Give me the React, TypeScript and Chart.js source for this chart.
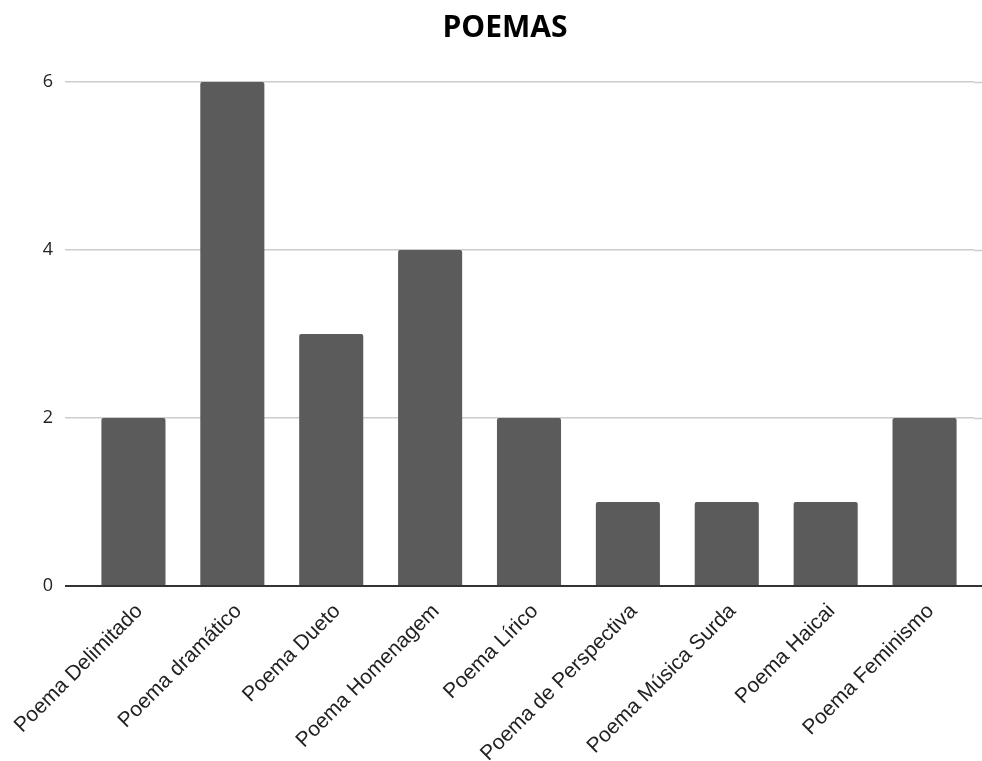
import React, { useEffect, useRef } from 'react';
import { Chart, registerables } from 'chart.js';

Chart.register(...registerables);

const title = 'POEMAS';
const categories = [
  'Poema Delimitado',
  'Poema dramático',
  'Poema Dueto',
  'Poema Homenagem',
  'Poema Lírico',
  'Poema de Perspectiva',
  'Poema Música Surda',
  'Poema Haicai',
  'Poema Feminismo',
];
const values = [2, 6, 3, 4, 2, 1, 1, 1, 2];
const yMin = 0;
const yMax = 6;
const yStep = 2;

const W = 982;
const H = 761;
const TICK_LEN = 19;

const gridExtend = {
  id: 'gridExtend',
  beforeDatasetsDraw(chart: any) {
    const { ctx, chartArea } = chart;
    const y = chart.scales.y;
    ctx.save();
    y.ticks.forEach((t: any) => {
      if (t.value === 0) return;
      const py = Math.round(y.getPixelForValue(t.value)) + 0.5;
      ctx.strokeStyle = '#cccccc';
      ctx.lineWidth = 1.5;
      ctx.beginPath();
      ctx.moveTo(chartArea.right, py);
      ctx.lineTo(chart.width, py);
      ctx.stroke();
    });
    ctx.restore();
  },
  afterDatasetsDraw(chart: any) {
    const { ctx, chartArea } = chart;
    const y = chart.scales.y;
    const py = y.getPixelForValue(0);
    ctx.save();
    ctx.strokeStyle = '#333333';
    ctx.lineWidth = 2;
    ctx.beginPath();
    ctx.moveTo(chartArea.left - TICK_LEN, py);
    ctx.lineTo(chart.width, py);
    ctx.stroke();
    ctx.restore();
  },
};

export default function App() {
  const ref = useRef<HTMLCanvasElement>(null);
  useEffect(() => {
    if (!ref.current) return;
    const chart = new Chart(ref.current, {
      type: 'bar',
      data: {
        labels: categories,
        datasets: [
          {
            data: values,
            backgroundColor: '#5b5b5b',
            borderRadius: 2,
            borderSkipped: 'bottom',
            barPercentage: 0.648,
            categoryPercentage: 1,
          },
        ],
      },
      options: {
        responsive: false,
        animation: false,
        layout: { padding: { left: 36, right: 8, top: 0, bottom: 0 } },
        plugins: {
          legend: { display: false },
          tooltip: { enabled: false },
          title: {
            display: true,
            text: title,
            color: '#000000',
            font: { family: 'Open Sans', size: 30, weight: 'bold', lineHeight: 1.2 },
            padding: { top: 10, bottom: 36 },
          },
        },
        scales: {
          x: {
            grid: { display: false },
            border: { display: false },
            ticks: {
              autoSkip: false,
              minRotation: 45,
              maxRotation: 45,
              padding: 5,
              labelOffset: 6,
              color: '#222222',
              font: { family: 'Liberation Sans', size: 21 },
            },
            afterFit: (s: any) => {
              s.height = H - 586;
            },
          },
          y: {
            min: yMin,
            max: yMax,
            border: { display: false },
            grid: {
              color: (c: any) => (c.tick && c.tick.value === 0 ? 'rgba(0,0,0,0)' : '#cccccc'),
              lineWidth: 1.5,
              tickLength: TICK_LEN,
              drawTicks: true,
            },
            ticks: {
              stepSize: yStep,
              padding: 12,
              color: '#222222',
              font: { family: 'Open Sans', size: 18 },
            },
            afterFit: (s: any) => {
              s.width = 48;
            },
          },
        },
      },
      plugins: [gridExtend],
    });
    return () => chart.destroy();
  }, []);

  return (
    <div style={{ position: 'fixed', left: 0, top: 0, width: W, height: H, background: '#ffffff' }}>
      <canvas ref={ref} width={W} height={H} style={{ display: 'block' }} />
    </div>
  );
}
